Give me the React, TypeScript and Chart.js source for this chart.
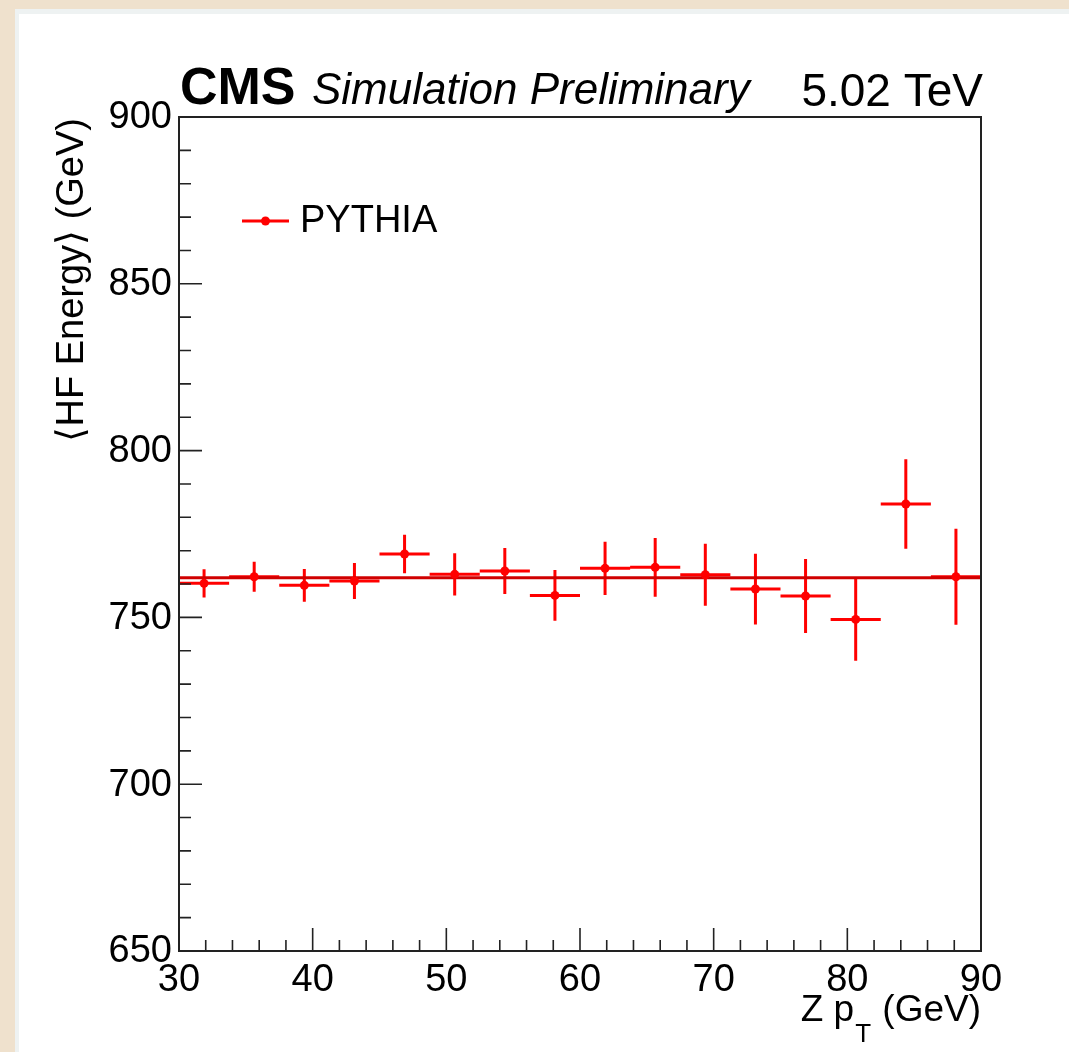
import React, { useEffect, useRef } from "react";
import { Chart, registerables } from "chart.js";

Chart.register(...registerables);

// ---- data ----
const binCenters = [31.875, 35.625, 39.375, 43.125, 46.875, 50.625, 54.375, 58.125, 61.875, 65.625, 69.375, 73.125, 76.875, 80.625, 84.375, 88.125];
const binHalfWidths = [1.875, 1.875, 1.875, 1.875, 1.875, 1.875, 1.875, 1.875, 1.875, 1.875, 1.875, 1.875, 1.875, 1.875, 1.875, 1.875];
const meanHFEnergy = [760.2, 762.2, 759.6, 760.9, 769.0, 762.9, 763.9, 756.6, 764.7, 765.0, 762.8, 758.5, 756.4, 749.4, 784.0, 762.2];
const meanErrors = [4.2, 4.5, 4.9, 5.4, 5.8, 6.3, 6.9, 7.6, 8.0, 8.8, 9.3, 10.6, 11.1, 12.4, 13.4, 14.4];
const fitX = [30, 90];
const fitY = [761.9, 761.9];
const xMajorTicks = [30, 40, 50, 60, 70, 80, 90];
const xMinorTicks = [32, 34, 36, 38, 42, 44, 46, 48, 52, 54, 56, 58, 62, 64, 66, 68, 72, 74, 76, 78, 82, 84, 86, 88];
const yMajorTicks = [650, 700, 750, 800, 850, 900];
const yMinorTicks = [660, 670, 680, 690, 710, 720, 730, 740, 760, 770, 780, 790, 810, 820, 830, 840, 860, 870, 880, 890];
const seriesLabel = "PYTHIA";

const FONT = '"Liberation Sans", Arial, Helvetica, sans-serif';

const cmsPlugin = {
  id: "cmsDecor",
  beforeDraw(chart: any) {
    const ctx = chart.ctx;
    const W = chart.width;
    const H = chart.height;
    ctx.save();
    ctx.fillStyle = "#efe1cd";
    ctx.fillRect(0, 0, W, H);
    ctx.fillStyle = "#eef2f2";
    ctx.fillRect(15, 9, W - 15, H - 9);
    ctx.fillStyle = "#ffffff";
    ctx.fillRect(19, 14, W - 19, H - 14);
    ctx.restore();
  },
  beforeDatasetsDraw(chart: any) {
    const ctx = chart.ctx;
    const xs = chart.scales.x;
    const ys = chart.scales.y;
    ctx.save();
    ctx.strokeStyle = "#ff0000";
    ctx.lineWidth = 3;
    ctx.lineCap = "butt";
    ctx.beginPath();
    for (let i = 0; i < binCenters.length; i++) {
      const xc = xs.getPixelForValue(binCenters[i]);
      const xl = xs.getPixelForValue(binCenters[i] - binHalfWidths[i]);
      const xr = xs.getPixelForValue(binCenters[i] + binHalfWidths[i]);
      const yc = ys.getPixelForValue(meanHFEnergy[i]);
      const yt = ys.getPixelForValue(meanHFEnergy[i] + meanErrors[i]);
      const yb = ys.getPixelForValue(meanHFEnergy[i] - meanErrors[i]);
      ctx.moveTo(xl, yc);
      ctx.lineTo(xr, yc);
      ctx.moveTo(xc, yt);
      ctx.lineTo(xc, yb);
    }
    ctx.stroke();
    ctx.restore();
  },
  afterDraw(chart: any) {
    const ctx = chart.ctx;
    const xs = chart.scales.x;
    const ys = chart.scales.y;
    const a = chart.chartArea;
    ctx.save();

    // frame
    ctx.strokeStyle = "#222222";
    ctx.lineWidth = 2;
    ctx.strokeRect(a.left, a.top, a.right - a.left, a.bottom - a.top);

    // ticks (inside)
    ctx.beginPath();
    for (const v of xMajorTicks) {
      const x = xs.getPixelForValue(v);
      ctx.moveTo(x, a.bottom);
      ctx.lineTo(x, a.bottom - 23);
    }
    for (const v of xMinorTicks) {
      const x = xs.getPixelForValue(v);
      ctx.moveTo(x, a.bottom);
      ctx.lineTo(x, a.bottom - 11);
    }
    for (const v of yMajorTicks) {
      const y = ys.getPixelForValue(v);
      ctx.moveTo(a.left, y);
      ctx.lineTo(a.left + 23, y);
    }
    for (const v of yMinorTicks) {
      const y = ys.getPixelForValue(v);
      ctx.moveTo(a.left, y);
      ctx.lineTo(a.left + 12, y);
    }
    ctx.lineWidth = 1.6;
    ctx.stroke();

    // tick labels
    ctx.fillStyle = "#000000";
    ctx.font = `38px ${FONT}`;
    ctx.textAlign = "center";
    ctx.textBaseline = "alphabetic";
    for (const v of xMajorTicks) {
      ctx.fillText(String(v), xs.getPixelForValue(v), a.bottom + 40);
    }
    ctx.textAlign = "right";
    ctx.textBaseline = "middle";
    for (const v of yMajorTicks) {
      ctx.fillText(String(v), a.left - 7, ys.getPixelForValue(v) + 1);
    }

    // y title
    ctx.save();
    ctx.translate(83, a.top + 1);
    ctx.rotate(-Math.PI / 2);
    ctx.textAlign = "right";
    ctx.textBaseline = "alphabetic";
    ctx.font = `38px ${FONT}`;
    ctx.fillText("\u27E8HF Energy\u27E9 (GeV)", 0, 0);
    ctx.restore();

    // x title: Z p_T (GeV)
    ctx.textBaseline = "alphabetic";
    ctx.textAlign = "left";
    const mainFont = `37px ${FONT}`;
    const subFont = `26px ${FONT}`;
    ctx.font = mainFont;
    const wTail = ctx.measureText(" (GeV)").width;
    const wHead = ctx.measureText("Z p").width;
    ctx.font = subFont;
    const wSub = ctx.measureText("T").width;
    const right = a.right;
    const baseY = 1021;
    let x0 = right - wTail - wSub - 2 - wHead;
    ctx.font = mainFont;
    ctx.fillText("Z p", x0, baseY);
    ctx.font = subFont;
    ctx.fillText("T", x0 + wHead + 1, baseY + 21);
    ctx.font = mainFont;
    ctx.fillText(" (GeV)", x0 + wHead + wSub + 2, baseY);

    // header
    ctx.font = `bold 52px ${FONT}`;
    ctx.textAlign = "left";
    ctx.fillText("CMS", a.left + 1, 104);
    ctx.font = `italic 44px ${FONT}`;
    ctx.fillText("Simulation Preliminary", 312, 104);
    ctx.textAlign = "right";
    ctx.font = `46px ${FONT}`;
    ctx.fillText("5.02 TeV", a.right + 2, 106);

    // legend
    ctx.strokeStyle = "#ff0000";
    ctx.lineWidth = 3;
    ctx.beginPath();
    ctx.moveTo(242, 221);
    ctx.lineTo(289, 221);
    ctx.stroke();
    ctx.fillStyle = "#ff0000";
    ctx.beginPath();
    ctx.arc(265.5, 221, 4.5, 0, Math.PI * 2);
    ctx.fill();
    ctx.fillStyle = "#000000";
    ctx.textAlign = "left";
    ctx.textBaseline = "middle";
    ctx.font = `38px ${FONT}`;
    ctx.fillText(seriesLabel, 300, 222);

    ctx.restore();
  },
};

export default function App() {
  const canvasRef = useRef<HTMLCanvasElement | null>(null);

  useEffect(() => {
    const canvas = canvasRef.current;
    if (!canvas) return;
    const points = binCenters.map((x, i) => ({ x, y: meanHFEnergy[i] }));
    const fitPoints = fitX.map((x, i) => ({ x, y: fitY[i] }));
    const chart = new Chart(canvas, {
      type: "scatter",
      data: {
        datasets: [
          {
            label: seriesLabel,
            data: points,
            showLine: false,
            pointRadius: 4.5,
            pointHoverRadius: 4.5,
            pointBackgroundColor: "#ff0000",
            pointBorderColor: "#ff0000",
            pointBorderWidth: 0,
            backgroundColor: "#ff0000",
            borderColor: "#ff0000",
          },
          {
            type: "line",
            label: "fit",
            data: fitPoints,
            borderColor: "#d00000",
            borderWidth: 3,
            pointRadius: 0,
            fill: false,
            tension: 0,
          } as any,
        ],
      },
      options: {
        responsive: false,
        maintainAspectRatio: false,
        animation: false,
        events: [],
        layout: { padding: { left: 179, right: 88, top: 117, bottom: 101 } },
        plugins: {
          legend: { display: false },
          tooltip: { enabled: false },
          title: { display: false },
        },
        scales: {
          x: { type: "linear", min: 30, max: 90, display: false },
          y: { type: "linear", min: 650, max: 900, display: false },
        },
      },
      plugins: [cmsPlugin],
    });
    return () => chart.destroy();
  }, []);

  return (
    <div style={{ position: "fixed", left: 0, top: 0, width: 1069, height: 1052 }}>
      <canvas ref={canvasRef} width={1069} height={1052} style={{ display: "block", width: 1069, height: 1052 }} />
    </div>
  );
}
